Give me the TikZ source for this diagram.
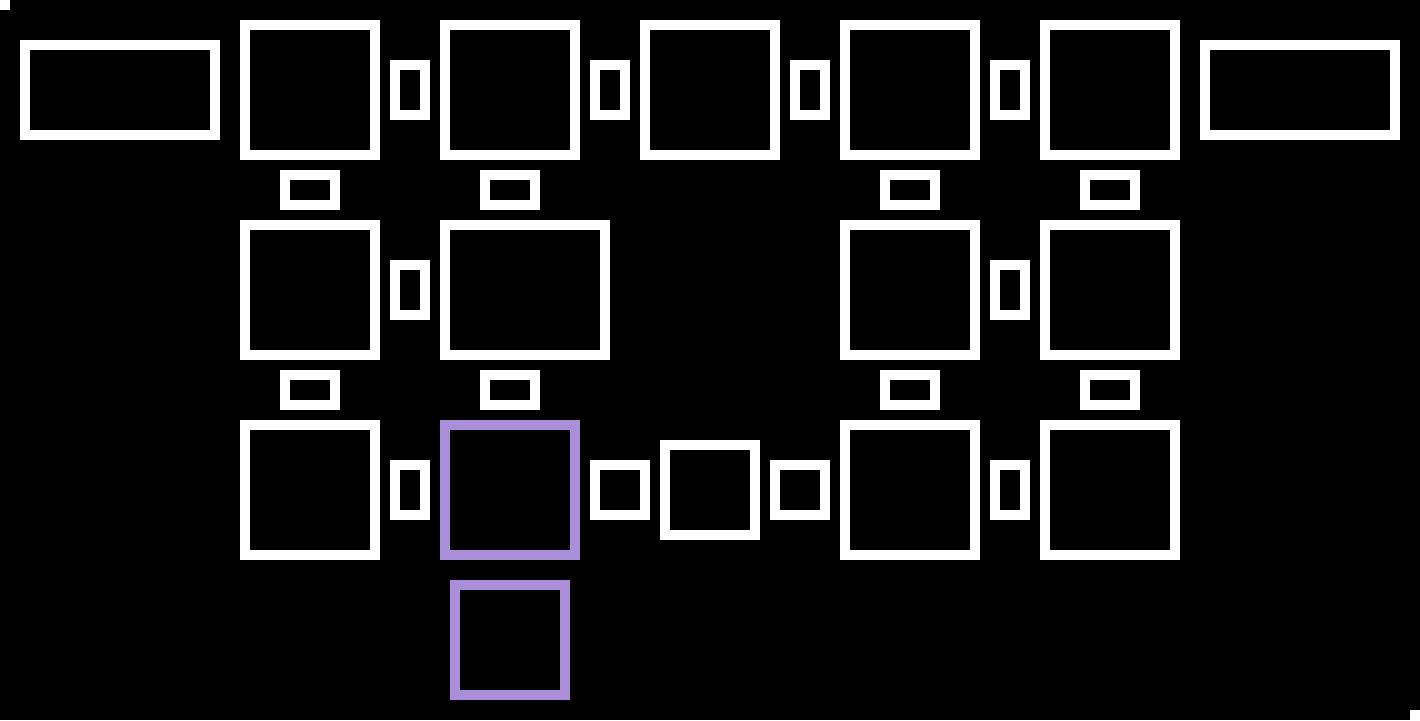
\documentclass[tikz,border=0pt]{standalone}
\definecolor{lav}{RGB}{170,143,216}
\begin{document}
\begin{tikzpicture}[x=1pt,y=-1pt,
  box/.style={draw=white,line width=10pt,inner sep=0pt,outer sep=0pt,minimum width=130pt,minimum height=130pt},
  hilite/.style={box,draw=lav},
  wide/.style={box,minimum width=190pt,minimum height=90pt},
  vlink/.style={box,minimum width=30pt,minimum height=50pt},
  hlink/.style={box,minimum width=50pt,minimum height=30pt},
  sq/.style={box,minimum width=50pt,minimum height=50pt},
  mark/.style={fill=white}]
\fill[black] (0,0) rectangle (1420,720);
\useasboundingbox (0,0) rectangle (1420,720);
\fill[white] (0,0) rectangle (10,10);
\fill[white] (1410,710) rectangle (1420,720);
% row 1
\node[wide] (wL) at (120,90) {};
\node[box] (t1) at (310,90) {};
\node[box] (t2) at (510,90) {};
\node[box] (t3) at (710,90) {};
\node[box] (t4) at (910,90) {};
\node[box] (t5) at (1110,90) {};
\node[wide] (wR) at (1300,90) {};
\node[vlink] (v11) at (410,90) {};
\node[vlink] (v12) at (610,90) {};
\node[vlink] (v13) at (810,90) {};
\node[vlink] (v14) at (1010,90) {};
\node[hlink] (h11) at (310,190) {};
\node[hlink] (h12) at (510,190) {};
\node[hlink] (h13) at (910,190) {};
\node[hlink] (h14) at (1110,190) {};
% row 2
\node[box] (m1) at (310,290) {};
\node[box,minimum width=160pt] (m2) at (525,290) {};
\node[box] (m3) at (910,290) {};
\node[box] (m4) at (1110,290) {};
\node[vlink] (v21) at (410,290) {};
\node[vlink] (v22) at (1010,290) {};
\node[hlink] (h21) at (310,390) {};
\node[hlink] (h22) at (510,390) {};
\node[hlink] (h23) at (910,390) {};
\node[hlink] (h24) at (1110,390) {};
% row 3
\node[box] (b1) at (310,490) {};
\node[hilite] (b2) at (510,490) {};
\node[sq] (s1) at (620,490) {};
\node[box,minimum width=90pt,minimum height=90pt] (c) at (710,490) {};
\node[sq] (s2) at (800,490) {};
\node[box] (b3) at (910,490) {};
\node[box] (b4) at (1110,490) {};
\node[vlink] (v31) at (410,490) {};
\node[vlink] (v32) at (1010,490) {};
% bottom
\node[hilite,minimum width=110pt,minimum height=110pt] (p) at (510,640) {};
\end{tikzpicture}
\end{document}
